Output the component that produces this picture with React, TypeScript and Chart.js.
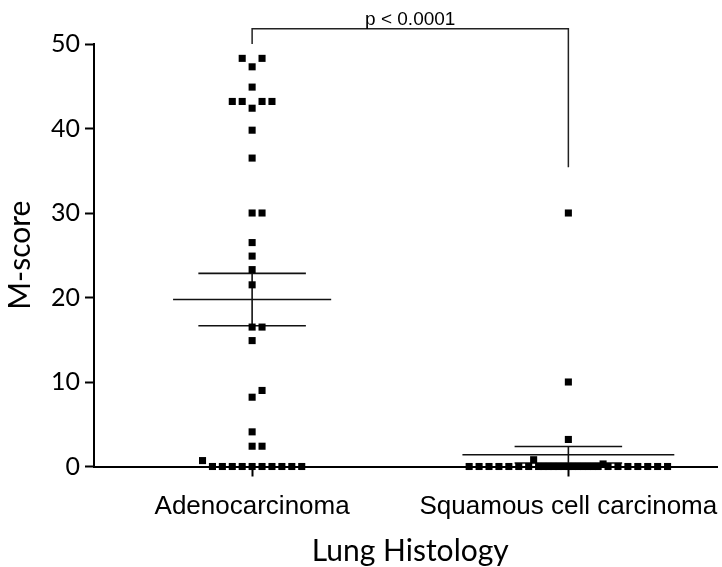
import { useEffect, useRef } from "react";
import { Chart, registerables } from "chart.js";

Chart.register(...registerables);

// ---------- data ----------
const categories = ["Adenocarcinoma", "Squamous cell carcinoma"];
const adenocarcinomaScores = [
  0, 0, 0, 0, 0, 0, 0, 0, 0, 0, 0.7, 2.4, 2.4, 4.1, 8.2, 9.0, 14.9, 16.5, 16.5,
  21.5, 23.3, 24.9, 26.5, 30, 30, 36.5, 39.8, 42.4, 43.2, 43.2, 43.2, 43.2, 44.9,
  47.3, 48.3, 48.3,
];
const squamousScores = [
  0, 0, 0, 0, 0, 0, 0, 0, 0, 0, 0, 0, 0, 0, 0, 0, 0, 0, 0, 0, 0, 0, 0, 0, 0, 0, 0,
  0.3, 0.8, 3.2, 10, 30,
];
const yTicks = [0, 10, 20, 30, 40, 50];
const pValueLabel = "p < 0.0001";
const bracketTopValue = 51.8;
const bracketLeftEndValue = 50;
const bracketRightEndValue = 35.4;
const xTitle = "Lung Histology";
const yTitle = "M-score";

// ---------- layout / style constants ----------
const W = 722;
const H = 567;
const PLOT_LEFT = 94;
const PLOT_TOP = 44;
const PLOT_BOTTOM = 466.5;
const X_MIN = 0.5;
const X_MAX = 2.47;
const X_PX = (W - PLOT_LEFT) / (X_MAX - X_MIN);
const Y_PX = (PLOT_BOTTOM - PLOT_TOP) / 50;
const SLOT_PX = 10;
const COLLIDE_PX = 9;
const MEAN_HALF = [0.25, 0.335];
const SEM_HALF = 0.17;
const TITLE_FONT = "Lato, 'Open Sans', sans-serif";
const LABEL_FONT = "'Liberation Sans', Arial, sans-serif";

function swarm(values: number[], center: number) {
  const cands: number[] = [0];
  for (let k = 1; k <= 10; k++) cands.push(k, -k);
  for (let k = 0; k < 10; k++) cands.push(k + 0.5, -(k + 0.5));
  const placed: { slot: number; v: number }[] = [];
  return values.map((v) => {
    let chosen = 0;
    for (const s of cands) {
      const hit = placed.some(
        (p) => p.slot === s && Math.abs(p.v - v) * Y_PX < COLLIDE_PX
      );
      if (!hit) {
        chosen = s;
        break;
      }
    }
    placed.push({ slot: chosen, v });
    return { x: center + (chosen * SLOT_PX) / X_PX, y: v };
  });
}

function stats(values: number[]) {
  const n = values.length;
  const mean = values.reduce((a, b) => a + b, 0) / n;
  const ss = values.reduce((a, b) => a + (b - mean) * (b - mean), 0);
  const sd = Math.sqrt(ss / (n - 1));
  return { mean, sem: sd / Math.sqrt(n) };
}

const groups = [adenocarcinomaScores, squamousScores];

const annotate = {
  id: "annotate",
  beforeDatasetsDraw(chart: any) {
    const { ctx } = chart;
    const xs = chart.scales.x;
    const ys = chart.scales.y;
    ctx.save();
    ctx.strokeStyle = "#111";
    ctx.lineWidth = 1.6;
    groups.forEach((vals, i) => {
      const { mean, sem } = stats(vals);
      const c = i + 1;
      const cx = xs.getPixelForValue(c);
      const line = (x0: number, x1: number, v: number) => {
        const y = ys.getPixelForValue(v);
        ctx.beginPath();
        ctx.moveTo(xs.getPixelForValue(x0), y);
        ctx.lineTo(xs.getPixelForValue(x1), y);
        ctx.stroke();
      };
      line(c - MEAN_HALF[i], c + MEAN_HALF[i], mean);
      line(c - SEM_HALF, c + SEM_HALF, mean + sem);
      line(c - SEM_HALF, c + SEM_HALF, Math.max(mean - sem, 0));
      ctx.beginPath();
      ctx.moveTo(cx, ys.getPixelForValue(mean + sem));
      ctx.lineTo(cx, ys.getPixelForValue(Math.max(mean - sem, 0)));
      ctx.stroke();
    });
    ctx.restore();
  },
  afterDraw(chart: any) {
    const { ctx, chartArea } = chart;
    const xs = chart.scales.x;
    const ys = chart.scales.y;
    ctx.save();
    ctx.fillStyle = "#000";
    // category labels
    ctx.font = `26px ${LABEL_FONT}`;
    ctx.textAlign = "center";
    ctx.textBaseline = "alphabetic";
    categories.forEach((c, i) => {
      ctx.fillText(c, xs.getPixelForValue(i + 1), chartArea.bottom + 47);
    });
    // x title
    const xl = xs.getPixelForValue(1);
    const xr = xs.getPixelForValue(2);
    ctx.font = `30px ${TITLE_FONT}`;
    ctx.fillText(xTitle, (xl + xr) / 2, chartArea.bottom + 94);
    // y title
    ctx.save();
    ctx.translate(30, (chartArea.top + chartArea.bottom) / 2);
    ctx.rotate(-Math.PI / 2);
    ctx.fillText(yTitle, 0, 0);
    ctx.restore();
    // bracket
    const yt = ys.getPixelForValue(bracketTopValue);
    ctx.strokeStyle = "#222";
    ctx.lineWidth = 1.5;
    ctx.beginPath();
    ctx.moveTo(xl, ys.getPixelForValue(bracketLeftEndValue));
    ctx.lineTo(xl, yt);
    ctx.lineTo(xr, yt);
    ctx.lineTo(xr, ys.getPixelForValue(bracketRightEndValue));
    ctx.stroke();
    ctx.font = `19px ${LABEL_FONT}`;
    ctx.fillText(pValueLabel, (xl + xr) / 2, yt - 4);
    ctx.restore();
  },
};

export default function App() {
  const ref = useRef<HTMLCanvasElement | null>(null);
  useEffect(() => {
    document.body.style.margin = "0";
    if (!ref.current) return;
    const chart = new Chart(ref.current, {
      type: "scatter",
      data: {
        datasets: groups.map((vals, i) => ({
          label: categories[i],
          data: swarm(vals, i + 1),
          pointStyle: "rect",
          pointRadius: 5,
          pointBorderWidth: 0,
          backgroundColor: "#000",
          borderColor: "#000",
          clip: false as any,
        })),
      },
      options: {
        animation: false,
        responsive: false,
        layout: { padding: { top: PLOT_TOP, left: 0, right: 0, bottom: 0 } },
        plugins: { legend: { display: false }, tooltip: { enabled: false } },
        scales: {
          x: {
            type: "linear",
            min: X_MIN,
            max: X_MAX,
            afterBuildTicks: (s: any) => {
              s.ticks = categories.map((_, i) => ({ value: i + 1 }));
            },
            afterFit: (s: any) => {
              s.height = H - PLOT_BOTTOM;
            },
            ticks: { display: false },
            grid: {
              drawOnChartArea: false,
              drawTicks: true,
              tickLength: 10,
              tickColor: "#000",
              tickWidth: 2,
            },
            border: { color: "#000", width: 2 },
          },
          y: {
            min: 0,
            max: 50,
            afterBuildTicks: (s: any) => {
              s.ticks = yTicks.map((v) => ({ value: v }));
            },
            afterFit: (s: any) => {
              s.width = PLOT_LEFT;
            },
            ticks: {
              color: "#000",
              padding: 5,
              font: { family: TITLE_FONT, size: 25 },
            },
            grid: {
              drawOnChartArea: false,
              drawTicks: true,
              tickLength: 9,
              tickColor: "#000",
              tickWidth: 2,
            },
            border: { color: "#000", width: 2 },
          },
        },
      },
      plugins: [annotate],
    });
    return () => chart.destroy();
  }, []);
  return (
    <div style={{ width: W, height: H }}>
      <canvas ref={ref} width={W} height={H} />
    </div>
  );
}
